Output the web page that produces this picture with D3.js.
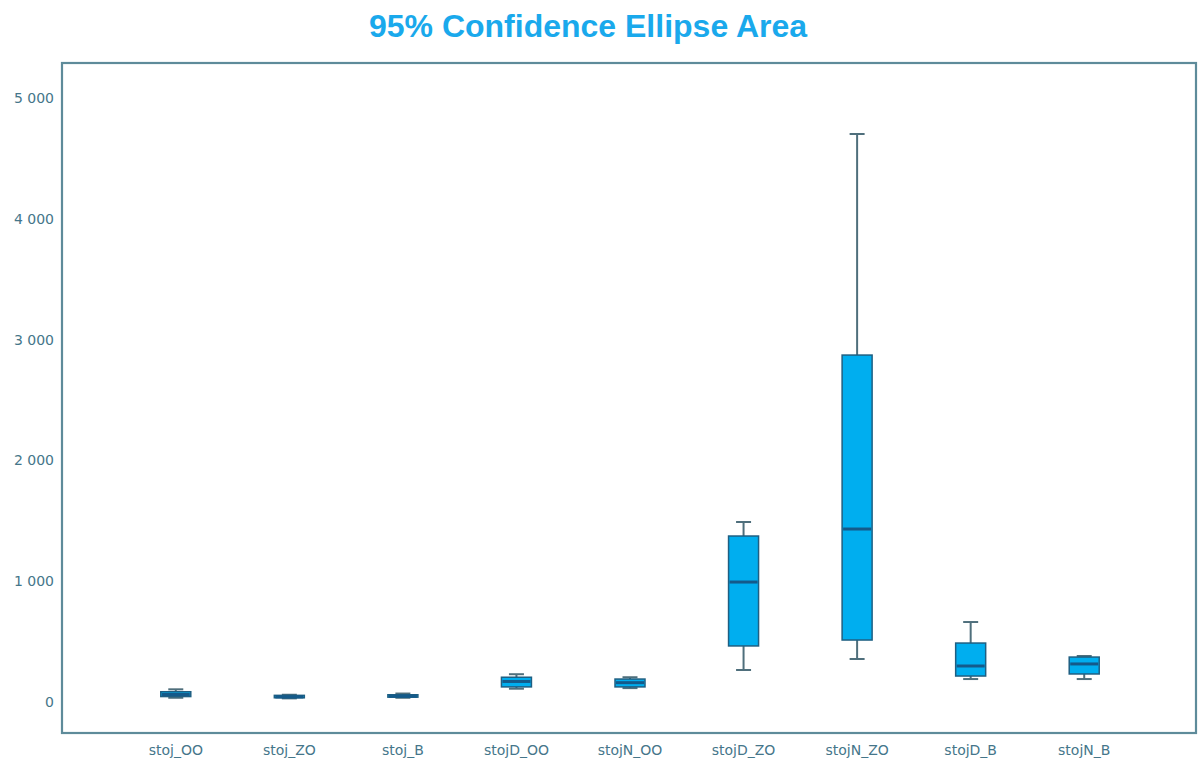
<!DOCTYPE html>
<html>
<head>
<meta charset="utf-8">
<script src="https://cdn.jsdelivr.net/npm/d3@7"></script>
<style>
  html, body { margin: 0; padding: 0; background: #ffffff; }
  svg { display: block; }
</style>
</head>
<body>
<svg id="chart" width="1199" height="762"></svg>
<script>
// Box-plot summaries (five-number) for each condition
const categories = ["stoj_OO", "stoj_ZO", "stoj_B", "stojD_OO", "stojN_OO", "stojD_ZO", "stojN_ZO", "stojD_B", "stojN_B"];
const whiskerLow  = [35, 30, 35, 110, 115, 265, 356, 190, 190];
const quartile1   = [45, 35, 40, 125, 125, 464, 513, 215, 232];
const medians     = [62, 42, 48, 170, 160, 993, 1432, 298, 315];
const quartile3   = [85, 55, 60, 205, 190, 1374, 2872, 488, 372];
const whiskerHigh = [105, 60, 70, 230, 205, 1490, 4702, 662, 381];
const yTicks = [0, 1000, 2000, 3000, 4000, 5000];

const rows = categories.map((c, i) => ({
  name: c, lo: whiskerLow[i], q1: quartile1[i], med: medians[i], q3: quartile3[i], hi: whiskerHigh[i]
}));

const svg = d3.select("#chart");
const frame = { left: 62, top: 63, right: 1196, bottom: 733 };

const x = d3.scaleBand().domain(categories).range([119, 1141]).paddingInner(0).paddingOuter(0);
const y = d3.scaleLinear().domain([0, 5000]).range([702, 98]);

const axisColor = "#5e8b9a";
const textColor = "#45768a";
const labelFont = "DejaVu Sans, Verdana, sans-serif";

// title
svg.append("text")
  .attr("x", 588).attr("y", 37)
  .attr("text-anchor", "middle")
  .attr("font-family", "Liberation Sans, Arial, sans-serif")
  .attr("font-weight", "bold")
  .attr("font-size", 32)
  .attr("fill", "#1aa9ec")
  .text("95% Confidence Ellipse Area");

// plot frame
svg.append("rect")
  .attr("x", frame.left).attr("y", frame.top)
  .attr("width", frame.right - frame.left).attr("height", frame.bottom - frame.top)
  .attr("fill", "none").attr("stroke", axisColor).attr("stroke-width", 2.2);

// y axis labels (space as thousands separator)
const fmt = v => d3.format(",")(v).replace(/,/g, " ");
const yAxis = d3.axisLeft(y).tickValues(yTicks).tickSize(0).tickPadding(0).tickFormat(fmt);
const gy = svg.append("g").attr("transform", "translate(54,0)").call(yAxis);
gy.select(".domain").remove();
gy.selectAll("text")
  .attr("font-family", labelFont)
  .attr("font-size", 14)
  .attr("fill", textColor);

// x axis labels
const xAxis = d3.axisBottom(x).tickSize(0).tickPadding(0);
const gx = svg.append("g").attr("transform", "translate(0,745)").call(xAxis);
gx.select(".domain").remove();
gx.selectAll("text")
  .attr("font-family", labelFont)
  .attr("font-size", 14)
  .attr("fill", textColor);

// boxes
const boxW = 30, capW = 15;
const g = svg.append("g")
  .selectAll("g.box")
  .data(rows)
  .join("g")
  .attr("class", "box")
  .attr("transform", d => `translate(${x(d.name) + x.bandwidth() / 2},0)`);

const whiskerColor = "#4f6f7c";
g.append("line")
  .attr("x1", 0).attr("x2", 0)
  .attr("y1", d => y(d.hi)).attr("y2", d => y(d.q3))
  .attr("stroke", whiskerColor).attr("stroke-width", 2);
g.append("line")
  .attr("x1", 0).attr("x2", 0)
  .attr("y1", d => y(d.q1)).attr("y2", d => y(d.lo))
  .attr("stroke", whiskerColor).attr("stroke-width", 2);
g.append("line")
  .attr("x1", -capW / 2).attr("x2", capW / 2)
  .attr("y1", d => y(d.hi)).attr("y2", d => y(d.hi))
  .attr("stroke", whiskerColor).attr("stroke-width", 2);
g.append("line")
  .attr("x1", -capW / 2).attr("x2", capW / 2)
  .attr("y1", d => y(d.lo)).attr("y2", d => y(d.lo))
  .attr("stroke", whiskerColor).attr("stroke-width", 2);

g.append("rect")
  .attr("x", -boxW / 2).attr("width", boxW)
  .attr("y", d => y(d.q3))
  .attr("height", d => Math.max(1, y(d.q1) - y(d.q3)))
  .attr("fill", "#00aeef")
  .attr("stroke", "#1f5f82").attr("stroke-width", 1.5);

g.append("line")
  .attr("x1", -boxW / 2 + 1).attr("x2", boxW / 2 - 1)
  .attr("y1", d => y(d.med)).attr("y2", d => y(d.med))
  .attr("stroke", "#145a8a").attr("stroke-width", 3);
</script>
</body>
</html>
